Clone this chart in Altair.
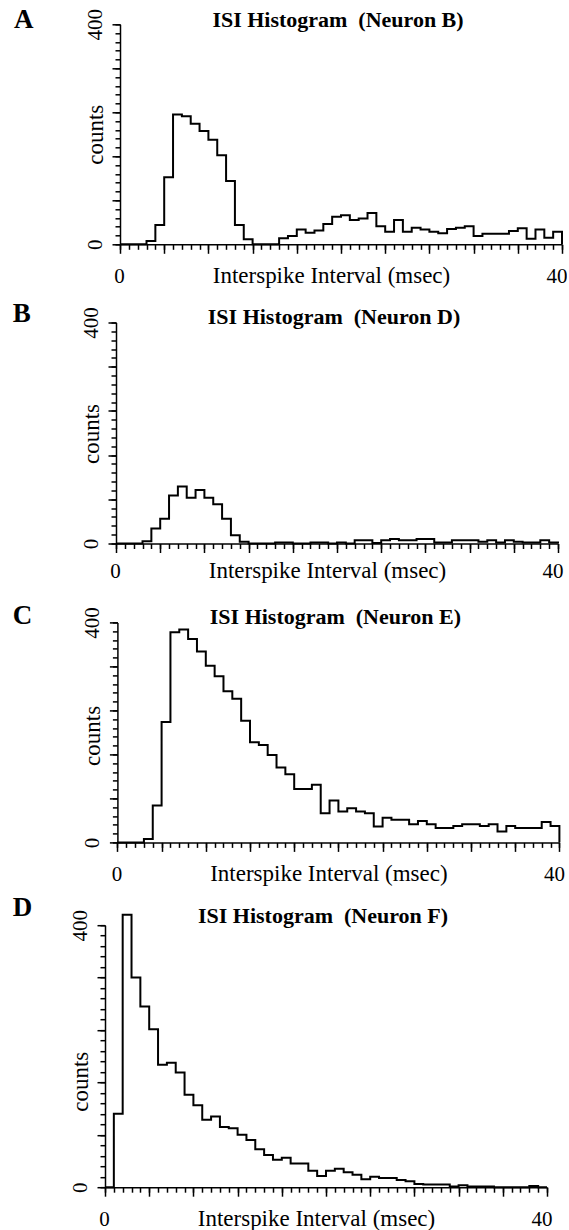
import altair as alt
import pandas as pd

# ---------------- data (counts per 0.8 ms bin, 0-40 ms) ----------------
bin_width = 0.8
n_bins = 50
x_major = [0, 4, 8, 12, 16, 20, 24, 28, 32, 36, 40]
x_minor = [round(i * bin_width, 1) for i in range(n_bins + 1)]
y_major = [0, 80, 160, 240, 320, 400]
y_minor = list(range(0, 401, 16))

letters = ["A", "B", "C", "D"]
neurons = ["Neuron B", "Neuron D", "Neuron E", "Neuron F"]

counts_b = [0, 0, 0, 6, 35, 122, 236, 233, 219, 206, 190, 162, 115, 35, 9, 0, 0, 0,
            11, 15, 27, 21, 25, 37, 50, 53, 44, 47, 57, 33, 23, 44, 23, 30, 27, 23,
            20, 28, 30, 33, 15, 19, 19, 19, 24, 29, 10, 27, 12, 23]
counts_d = [0, 0, 0, 4, 27, 45, 87, 103, 83, 97, 83, 71, 45, 15, 3, 0, 0, 0,
            2, 2, 0, 0, 2, 2, 0, 2, 0, 6, 6, 1, 6, 8, 6, 6, 8, 8,
            2, 2, 6, 6, 6, 3, 6, 2, 6, 3, 2, 2, 6, 2]
counts_e = [0, 0, 0, 6, 67, 219, 382, 387, 370, 347, 321, 302, 275, 261, 221, 182, 177, 159,
            136, 124, 97, 97, 105, 53, 76, 56, 62, 56, 53, 29, 45, 41, 41, 33, 39, 33,
            26, 26, 30, 33, 33, 30, 33, 20, 30, 26, 26, 26, 37, 30]
counts_f = [0, 112, 416, 320, 276, 241, 187, 190, 175, 141, 125, 103, 108, 92, 90, 80, 72, 58,
            49, 42, 45, 36, 36, 25, 17, 25, 28, 23, 19, 12, 16, 14, 14, 11, 9, 5,
            4, 4, 4, 1, 3, 1, 1, 1, 0, 0, 0, 0, 2, 0]
all_counts = [counts_b, counts_d, counts_e, counts_f]

# ---------------- layout / style ----------------
FONT = "Liberation Serif"
LETTER_SIZE = 27
TITLE_SIZE = 22
AXTITLE_SIZE = 23
LABEL_SIZE = 21
PLOT_W = 442
MAX_SHIFT = 15
GAP_FUDGE = 1.5

# per panel: plot top, height, horizontal shift of the plot inside the panel,
# letter dx, letter baseline, title baseline, x-label baseline, y-title centre
layout = [
    dict(top=25, h=220, shift=15, ldx=-91.0, lby=3.3, tby=2.3, xb=38.3, yty=110),
    dict(top=323, h=221, shift=11, ldx=-92.2, lby=0.0, tby=1.7, xb=34.0, yty=111),
    dict(top=622, h=220, shift=12.4, ldx=-92.2, lby=1.6, tby=1.6, xb=38.3, yty=113),
    dict(top=924, h=262, shift=0, ldx=-92.2, lby=-9.3, tby=-2.6, xb=38.3, yty=156),
]


def panel(i):
    p = layout[i]
    s = p["shift"]
    counts = all_counts[i]
    df = pd.DataFrame({"isi": x_minor, "count": counts + [0]})
    xs = alt.Scale(domain=[0, 40], nice=False, zero=False, range=[s, s + PLOT_W])
    ys = alt.Scale(domain=[0, 400], nice=False)

    x_axis = alt.Axis(
        orient="bottom", values=x_major, tickSize=9, tickWidth=1.5, tickColor="black",
        domainColor="black", domainWidth=1.5, grid=False,
        labelExpr="datum.value == 0 || datum.value == 40 ? datum.label : ''",
        labelFont=FONT, labelFontSize=LABEL_SIZE, labelColor="black",
        labelBaseline="alphabetic", labelPadding=p["xb"] - 9, labelOverlap=False,
        labelFlush=False,
        labelOffset={"condition": {"test": "datum.value == 40", "value": -5.5}, "value": -1},
        title="Interspike Interval (msec)", titleFont=FONT, titleFontSize=AXTITLE_SIZE,
        titleFontWeight="normal", titleColor="black", titleX=s + 211, titleY=p["xb"],
        titleAlign="center", titleBaseline="alphabetic",
    )
    y_axis = alt.Axis(
        orient="left", offset=-s, values=y_major, tickSize=8, tickWidth=1.5, tickColor="black",
        domainColor="black", domainWidth=1.5, grid=False,
        labelExpr="datum.value == 0 || datum.value == 400 ? datum.label : ''",
        labelFont=FONT, labelFontSize=LABEL_SIZE, labelColor="black",
        labelAngle=270, labelAlign="center", labelBaseline="middle", labelPadding=17,
        labelOverlap=False, labelFlush=False,
        title="counts", titleFont=FONT, titleFontSize=AXTITLE_SIZE, titleFontWeight="normal",
        titleColor="black", titleAngle=270, titleX=-25, titleY=p["yty"],
        titleAlign="center", titleBaseline="middle",
    )
    x_minor_axis = alt.Axis(orient="bottom", values=x_minor, tickSize=5, tickWidth=1.5,
                            tickColor="black", domain=False, labels=False, grid=False, title=None)
    y_minor_axis = alt.Axis(orient="left", offset=-s, values=y_minor, tickSize=5, tickWidth=1.5,
                            tickColor="black", domain=False, labels=False, grid=False, title=None)

    hist = alt.Chart(df).mark_line(
        interpolate="step-after", color="black", strokeWidth=2, strokeJoin="miter", clip=False
    ).encode(
        x=alt.X("isi:Q", scale=xs, axis=x_axis),
        y=alt.Y("count:Q", scale=ys, axis=y_axis),
    )
    minor = alt.Chart(df).mark_line(strokeOpacity=0).encode(
        x=alt.X("isi:Q", scale=xs, axis=x_minor_axis),
        y=alt.Y("count:Q", scale=ys, axis=y_minor_axis),
    )
    title = alt.Chart(pd.DataFrame({"t": ["ISI Histogram\u00a0 (" + neurons[i] + ")"]})).mark_text(
        font=FONT, fontSize=TITLE_SIZE, fontWeight="bold", color="black",
        align="center", baseline="alphabetic"
    ).encode(text="t:N", x=alt.value(s + 218), y=alt.value(p["tby"]))
    letter = alt.Chart(pd.DataFrame({"t": [letters[i]]})).mark_text(
        font=FONT, fontSize=LETTER_SIZE, fontWeight="bold", color="black",
        align="left", baseline="alphabetic"
    ).encode(text="t:N", x=alt.value(p["ldx"]), y=alt.value(p["lby"]))

    return alt.layer(minor, hist, title, letter).resolve_axis(
        x="independent", y="independent"
    ).properties(width=PLOT_W + MAX_SHIFT, height=p["h"])


def top_bound(p):
    return p["top"] + p["lby"] - round(0.8 * LETTER_SIZE) - 1


def bottom_bound(p):
    return p["top"] + p["h"] + p["xb"] - round(0.8 * AXTITLE_SIZE) + AXTITLE_SIZE + 1


panels = [panel(i) for i in range(4)]
chart = panels[0]
for i in range(1, 4):
    gap = top_bound(layout[i]) - bottom_bound(layout[i - 1]) + GAP_FUDGE
    chart = alt.concat(chart, panels[i], columns=1, spacing=gap, align="none")

top_pad = top_bound(layout[0])
chart = chart.properties(
    padding={"left": 12, "top": top_pad, "right": 0, "bottom": 0},
    background="white",
).configure_view(stroke=None)

chart.save("out.html", embed_options={"renderer": "svg", "actions": False})
